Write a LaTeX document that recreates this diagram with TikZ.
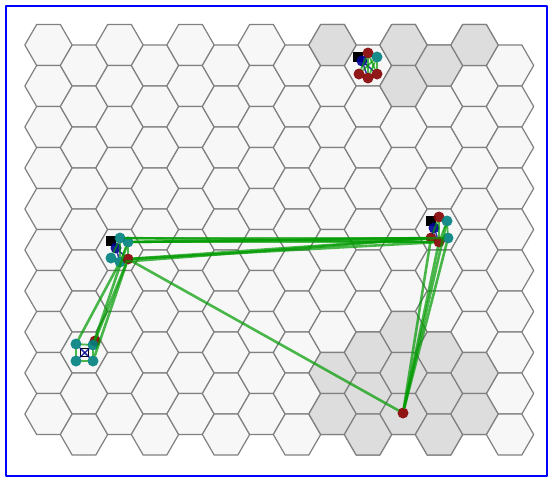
\documentclass[tikz,border=0pt]{standalone}
\definecolor{cellgray}{HTML}{F7F7F7}
\definecolor{celldark}{HTML}{DDDDDD}
\definecolor{linkgreen}{RGB}{0,155,0}
\definecolor{nodeteal}{RGB}{0,128,128}
\definecolor{nodered}{RGB}{135,0,0}
\definecolor{nodeblue}{RGB}{0,0,150}
\begin{document}
\begin{tikzpicture}[x=1pt,y=-1pt, line join=round, line cap=round,
	cell/.style={draw=gray, fill=cellgray, line width=1.2pt},
	darkcell/.style={cell, fill=celldark},
	agent/.style={circle, inner sep=0pt, minimum size=11pt, opacity=0.9},
	tealnode/.style={agent, fill=nodeteal},
	rednode/.style={agent, fill=nodered},
	bluenode/.style={agent, fill=nodeblue},
	base/.style={fill=black, inner sep=0pt, minimum size=9.5pt},
	link/.style={draw=linkgreen, line width=2.6pt, opacity=0.7},
	wire/.style={draw=nodeblue, line width=1.5pt, opacity=0.8}]
	\useasboundingbox (0,0) rectangle (548,477);
	\def\s{23.67} \def\h{20.5} % hex size
	% grid
	\foreach \c in {0,...,13}
	\foreach \r in {0,...,9}{
		\pgfmathsetmacro\cx{48.5+35.5*\c}
		\pgfmathsetmacro\cy{45+41*\r+20.5*mod(\c,2)}
		\draw[cell] (\cx,\cy) +(-\s,0) -- +(-\s/2,-\h) -- +(\s/2,-\h) -- +(\s,0) -- +(\s/2,\h) -- +(-\s/2,\h) -- cycle;
	}
	\foreach \c/\r in {8/0,10/0,10/1,11/0,12/0,9/7,10/7,11/7,8/8,9/8,10/8,11/8,12/8,8/9,9/9,10/9,11/9,12/9}{
		\pgfmathsetmacro\cx{48.5+35.5*\c}
		\pgfmathsetmacro\cy{45+41*\r+20.5*mod(\c,2)}
		\draw[darkcell] (\cx,\cy) +(-\s,0) -- +(-\s/2,-\h) -- +(\s/2,-\h) -- +(\s,0) -- +(\s/2,\h) -- +(-\s/2,\h) -- cycle;
	}
	\draw[blue, line width=2pt] (5.5,5.5) rectangle (546.5,475.5);
	% cluster top
	\node[base] (sqA) at (358,57) {};
	\node[rednode] (a1) at (368,53) {};
	\node[tealnode] (a2) at (377,57) {};
	\node[bluenode] (a3) at (362,61) {};
	\node[rednode] (a4) at (359,74) {};
	\node[rednode] (a5) at (368,78) {};
	\node[rednode] (a6) at (377,74) {};
	% cluster left
	\node[base] (sqB) at (111,241) {};
	\node[tealnode] (b1) at (120,238) {};
	\node[tealnode] (b2) at (128,242) {};
	\node[bluenode] (b3) at (116,248) {};
	\node[tealnode] (b4) at (111,258) {};
	\node[tealnode] (b5) at (120,262) {};
	\node[rednode] (b6) at (128,259) {};
	% cluster right
	\node[base] (sqC) at (431,221) {};
	\node[rednode] (c1) at (439,217) {};
	\node[tealnode] (c2) at (447,221) {};
	\node[bluenode] (c3) at (434,228) {};
	\node[tealnode] (c4) at (448,238) {};
	\node[rednode] (c5) at (431,238) {};
	\node[rednode] (c6) at (439,242) {};
	% cluster lower left
	\node[rednode] (d0) at (95,341) {};
	\node[tealnode] (d1) at (76,344) {};
	\node[tealnode] (d2) at (93,345) {};
	\node[tealnode] (d3) at (76,361) {};
	\node[tealnode] (d4) at (93,361) {};
	\node[draw=black, line width=1pt, inner sep=0pt, minimum size=8pt] (sqD) at (84.5,352.5) {};
	% single agent
	\node[rednode] (e) at (403,413) {};
	% inner wires
	\foreach \u/\v in {a3/a5,a3/a6,b3/b5,b3/b6,c3/c5,c3/c6,d1/d4,d2/d3}
		\draw[wire] (\u) -- (\v);
	\foreach \u/\v in {a1/a4,a1/a5,a1/a6,a2/a4,a2/a5,a2/a6,b1/b4,b1/b5,b2/b5,b2/b6,c1/c5,c1/c6,c2/c6,c2/c4,d1/d2,d2/d4,d1/d3,d3/d4}
		\draw[link, line width=1.8pt] (\u) -- (\v);
	% links between clusters
	\foreach \u/\v in {b1/c5,b1/c6,b2/c5,b2/c6,b2/c4,b6/c5,b6/c6,b5/c5}
		\draw[link] (\u) -- (\v);
	\foreach \u/\v in {b2/d2,b5/d1,b6/d2,b6/d4}
		\draw[link] (\u) -- (\v);
	\foreach \u in {b6,c5,c6,c4,c2}
		\draw[link] (\u) -- (e);
\end{tikzpicture}
\end{document}
